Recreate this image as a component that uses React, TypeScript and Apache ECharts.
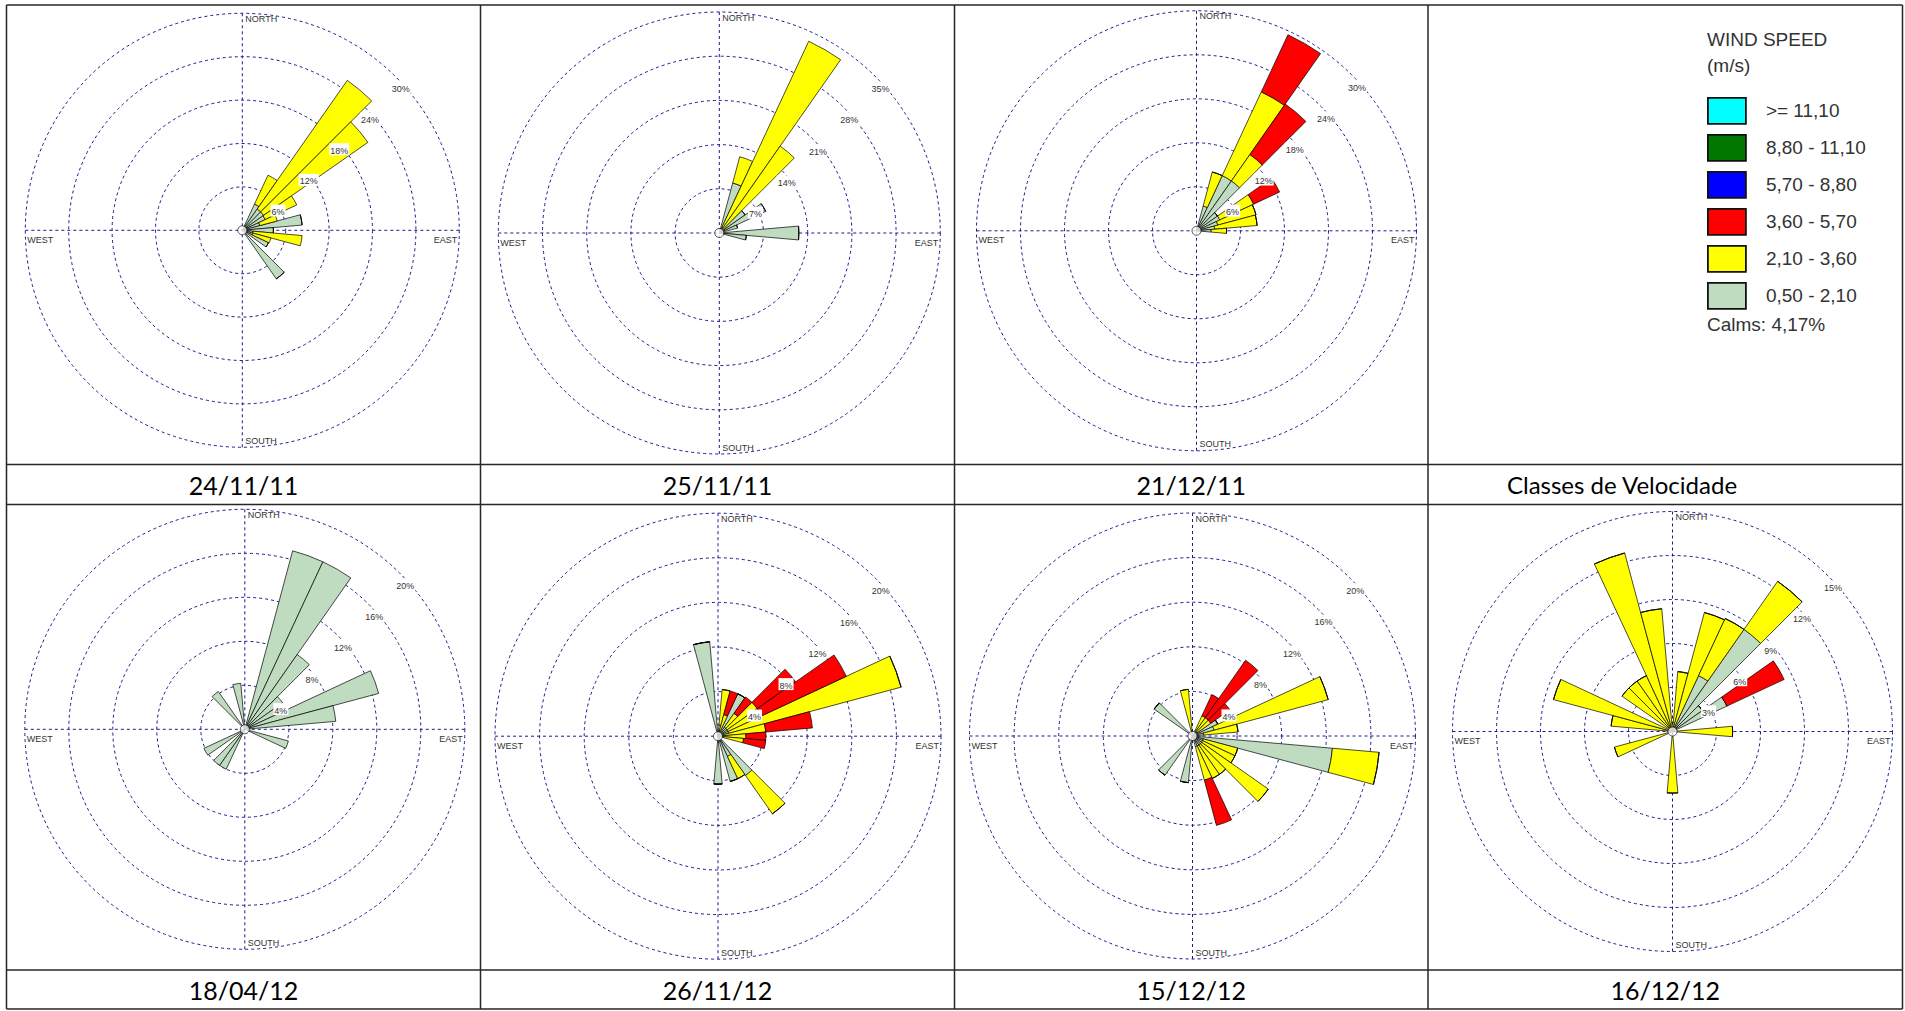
import React, { useEffect, useRef } from "react";
import * as echarts from "echarts";

// ---------------- data ----------------
const DIRECTIONS = ["10","20","30","40","50","60","70","80","90","100","110","120","130","140","150","160","170","180","190","200","210","220","230","240","250","260","270","280","290","300","310","320","330","340","350","360"];

const SPEED_CLASSES = ["0,50 - 2,10", "2,10 - 3,60", "3,60 - 5,70", "5,70 - 8,80", "8,80 - 11,10", ">= 11,10"];
const CLASS_COLORS = ["#c0dcc0", "#ffff00", "#ff0000", "#0000ff", "#007800", "#00ffff"];

const DATES = ["24/11/11", "25/11/11", "21/12/11", "18/04/12", "26/11/12", "15/12/12", "16/12/12"];
const RING_STEPS = [6, 7, 6, 4, 4, 4, 3];
const RING_COUNT = 5;
const LEGEND_TITLE = "WIND SPEED\n(m/s)";
const CALMS_TEXT = "Calms: 4,17%";
const LEGEND_CELL_LABEL = "Classes de Velocidade";
const COMPASS = ["NORTH", "EAST", "SOUTH", "WEST"];

// frequency (%) per direction, per speed class (class increments, stacked)
const R1_CLASS1 = [0,0,4.0,3.6,3.6,3.5,2.5,8.3,4.3,1.5,1.5,4.0,0,8.2,0,0,0,0, 0,0,0,0,0,0,0,0,0,0,0,0,0,0,0,0,0,0];
const R1_CLASS2 = [0,0,4.4,21.7,17.6,4.8,2.5,0,0,6.8,2.6,0,0,0,0,0,0,0, 0,0,0,0,0,0,0,0,0,0,0,0,0,0,0,0,0,0];

const R2_CLASS1 = [0,8.2,1.0,0,5.0,8.1,3.0,0,12.6,4.3,0,0,0,0,0,0,0,0, 0,0,0,0,0,0,0,0,0,0,0,0,0,0,0,0,0,0];
const R2_CLASS2 = [0,4.3,32.5,16.8,0,0,0,0,0,0,0,0,0,0,0,0,0,0, 0,0,0,0,0,0,0,0,0,0,0,0,0,0,0,0,0,0];

const R3_CLASS1 = [0,3.5,8.3,8.3,3.5,3.5,3.0,2.5,2.0,0,0,0,0,0,0,0,0,0, 0,0,0,0,0,0,0,0,0,0,0,0,0,0,0,0,0,0];
const R3_CLASS2 = [0,4.8,12.6,4.4,0,5.1,5.4,5.8,2.1,0,0,0,0,0,0,0,0,0, 0,0,0,0,0,0,0,0,0,0,0,0,0,0,0,0,0,0];
const R3_CLASS3 = [0,0,8.6,8.4,0,3.9,0,0,0,0,0,0,0,0,0,0,0,0, 0,0,0,0,0,0,0,0,0,0,0,0,0,0,0,0,0,0];

const R4_CLASS1 = [0,16.8,16.8,8.3,4.2,4.0,12.6,8.3,0,0,4.1,0,0,0,0,0,0,0, 0,0,4.0,4.0,0,4.1,0,0,0,0,0,0,0,4.2,0,0,4.2,0];

const R5_CLASS1 = [1.0,0.5,4.2,1.0,1.0,1.0,1.0,0.5,0.5,0.5,0,0,0,4.3,2.0,4.2,0,4.3, 0,0,0,0,0,0,0,0,0,0,0,0,0,0,0,0,8.5,0];
const R5_CLASS2 = [3.2,1.5,0,1.5,3.3,3.3,16.0,3.8,2.0,1.8,0,0,0,4.2,2.2,0,0,0, 0,0,0,0,0,0,0,0,0,0,0,0,0,0,0,0,0,0];
const R5_CLASS3 = [0,2.2,0,1.8,4.2,8.4,0,4.2,1.8,2.0,0,0,0,0,0,0,0,0, 0,0,0,0,0,0,0,0,0,0,0,0,0,0,0,0,0,0];

const R6_CLASS1 = [0,0,0.5,0.5,0.5,2.5,2.0,1.0,0,12.6,1.0,1.0,1.0,1.0,1.0,1.0,0,0, 4.2,0,0,4.3,0,0,0,0,0,0,0,0,4.2,0,0,0,0.5,0];
const R6_CLASS2 = [0,0,1.5,1.5,1.5,0,10.6,3.1,0,4.2,3.2,3.2,7.3,3.2,3.2,3.1,0,0, 0,0,0,0,0,0,0,0,0,0,0,0,0,0,0,0,3.7,0];
const R6_CLASS3 = [0,0,2.1,6.3,2.1,0,0,0,0,0,0,0,0,0,0,4.2,0,0, 0,0,0,0,0,0,0,0,0,0,0,0,0,0,0,0,0,0];

const R7_CLASS1 = [0,0,4.2,8.5,2.5,4.1,0,0,0,0,0,0,0,0,0,0,0,0, 0,0,0,0,0,0,0,0,0,0,0,0,0,0,0,0,0,0];
const R7_CLASS2 = [4.1,8.4,4.3,4.0,0,0,0,0,4.1,0,0,0,0,0,0,0,0,4.2, 0,0,0,0,0,0,4.1,0,0,4.2,8.4,0,4.2,4.2,4.2,12.6,8.4,0];
const R7_CLASS3 = [0,0,0,0,0,4.3,0,0,0,0,0,0,0,0,0,0,0,0, 0,0,0,0,0,0,0,0,0,0,0,0,0,0,0,0,0,0];

const ROSE_CLASSES: number[][][] = [
  [R1_CLASS1, R1_CLASS2],
  [R2_CLASS1, R2_CLASS2],
  [R3_CLASS1, R3_CLASS2, R3_CLASS3],
  [R4_CLASS1],
  [R5_CLASS1, R5_CLASS2, R5_CLASS3],
  [R6_CLASS1, R6_CLASS2, R6_CLASS3],
  [R7_CLASS1, R7_CLASS2, R7_CLASS3],
];

// ---------------- layout ----------------
const COL_X = [6.5, 480.5, 954.5, 1428, 1902.5];
const ROW_Y = [5, 464.5, 504.5, 970, 1009];
const ROSE_LAYOUT = [
  { cx: 242.3, cy: 230.3, r: 217, col: 0, row: 0 },
  { cx: 719.3, cy: 233, r: 221, col: 1, row: 0 },
  { cx: 1196.5, cy: 230.8, r: 220, col: 2, row: 0 },
  { cx: 244.8, cy: 729.3, r: 220, col: 0, row: 1 },
  { cx: 718, cy: 736.2, r: 223, col: 1, row: 1 },
  { cx: 1192.5, cy: 736, r: 223, col: 2, row: 1 },
  { cx: 1672.5, cy: 731.5, r: 220, col: 3, row: 1 },
];
const GRID_COLOR = "#1a1a90";
const TXT = "#333333";
const SANS = "'Liberation Sans', Arial, sans-serif";
const CAPTION_FONT = "Lato, 'Open Sans', sans-serif";

function buildOption() {
  const polar: any[] = [];
  const angleAxis: any[] = [];
  const radiusAxis: any[] = [];
  const series: any[] = [];
  const elements: any[] = [];
  const dash = { color: GRID_COLOR, width: 1, type: [3, 3] };

  ROSE_LAYOUT.forEach((L, k) => {
    const step = RING_STEPS[k];
    const max = step * RING_COUNT;
    const gi = 3 * k, li = 3 * k + 1, di = 3 * k + 2;
    for (let j = 0; j < 3; j++) polar.push({ center: [L.cx, L.cy], radius: [0, L.r] });

    // grid polar: rings + N/E/S/W lines
    angleAxis.push({
      polarIndex: gi, type: "value", min: 0, max: 360, interval: 90, startAngle: 90, clockwise: true,
      axisLine: { show: false }, axisTick: { show: false }, axisLabel: { show: false },
      splitLine: { show: true, lineStyle: dash }, z: 0,
    });
    radiusAxis.push({
      polarIndex: gi, type: "value", min: 0, max, interval: step,
      axisLine: { show: false }, axisTick: { show: false }, axisLabel: { show: false },
      splitLine: { show: true, lineStyle: dash }, z: 0,
    });
    // label polar: ring percentages along NE
    angleAxis.push({ polarIndex: li, type: "value", min: 0, max: 360, startAngle: 45, clockwise: true, show: false });
    radiusAxis.push({
      polarIndex: li, type: "value", min: 0, max, interval: step, z: 10,
      axisLine: { show: false }, axisTick: { show: false }, splitLine: { show: false },
      axisLabel: {
        show: true, showMinLabel: false, showMaxLabel: true, formatter: "{value}%",
        fontSize: 9, color: TXT, fontFamily: SANS, backgroundColor: "#ffffff",
        padding: [3, 1, 0, 1], margin: -7, align: "center", verticalAlign: "top",
      },
    });
    // data polar
    angleAxis.push({ polarIndex: di, type: "category", data: DIRECTIONS, startAngle: 85, clockwise: true, show: false });
    radiusAxis.push({ polarIndex: di, type: "value", min: 0, max, show: false });

    SPEED_CLASSES.forEach((name, c) => {
      series.push({
        type: "bar", coordinateSystem: "polar", polarIndex: di, stack: "rose" + k, name,
        data: ROSE_CLASSES[k][c] || [], barCategoryGap: "0%", silent: true, z: 3,
        itemStyle: { color: CLASS_COLORS[c], borderColor: "#000000", borderWidth: 0.7 },
      });
    });
    series.push({
      type: "scatter", coordinateSystem: "polar", polarIndex: di, name: "calm", silent: true, z: 5,
      data: [[0, DIRECTIONS[0]]], symbol: "circle", symbolSize: 9,
      itemStyle: { color: "#ffffff", borderColor: "#000000", borderWidth: 0.8 },
    });

    const dirStyle = { fontSize: 9, fill: TXT, fontFamily: SANS };
    elements.push(
      { type: "text", x: L.cx + 3, y: L.cy - L.r + 1, style: { ...dirStyle, text: COMPASS[0], textAlign: "left", textVerticalAlign: "top" } },
      { type: "text", x: L.cx + L.r - 2, y: L.cy + 5, style: { ...dirStyle, text: COMPASS[1], textAlign: "right", textVerticalAlign: "top" } },
      { type: "text", x: L.cx + 3, y: L.cy + L.r - 2, style: { ...dirStyle, text: COMPASS[2], textAlign: "left", textVerticalAlign: "bottom" } },
      { type: "text", x: L.cx - L.r + 2, y: L.cy + 5, style: { ...dirStyle, text: COMPASS[3], textAlign: "left", textVerticalAlign: "top" } },
    );
    const capY = L.row === 0 ? (ROW_Y[1] + ROW_Y[2]) / 2 : (ROW_Y[3] + ROW_Y[4]) / 2;
    elements.push({
      type: "text", x: (COL_X[L.col] + COL_X[L.col + 1]) / 2, y: capY,
      style: { text: DATES[k], fontSize: 25, fill: "#000", fontFamily: CAPTION_FONT, textAlign: "center", textVerticalAlign: "middle" },
    });
  });

  elements.push({
    type: "text", x: 1622, y: (ROW_Y[1] + ROW_Y[2]) / 2,
    style: { text: LEGEND_CELL_LABEL, fontSize: 24, fill: "#000", fontFamily: CAPTION_FONT, textAlign: "center", textVerticalAlign: "middle" },
  });
  elements.push({
    type: "text", x: 1707, y: 324,
    style: { text: CALMS_TEXT, fontSize: 19, fill: TXT, fontFamily: SANS, textAlign: "left", textVerticalAlign: "middle" },
  });

  const border = { stroke: "#262626", lineWidth: 1.5 };
  ROW_Y.forEach((y) => elements.push({ type: "line", shape: { x1: COL_X[0], y1: y, x2: COL_X[4], y2: y }, style: border, z: 20 }));
  COL_X.forEach((x) => elements.push({ type: "line", shape: { x1: x, y1: ROW_Y[0], x2: x, y2: ROW_Y[4] }, style: border, z: 20 }));

  return {
    animation: false,
    backgroundColor: "#ffffff",
    title: {
      text: LEGEND_TITLE, left: 1707, top: 26, padding: 0,
      textStyle: { fontSize: 19, fontWeight: "normal", color: TXT, lineHeight: 26, fontFamily: SANS },
    },
    legend: {
      orient: "vertical", left: 1707, top: 97, padding: 0,
      itemWidth: 38, itemHeight: 26, itemGap: 9.2, selectedMode: false,
      data: SPEED_CLASSES.slice().reverse().map((n) => ({ name: n, icon: "rect" })),
      itemStyle: { borderColor: "#111111", borderWidth: 1.8 },
      textStyle: { fontSize: 19, color: TXT, fontFamily: SANS, padding: [0, 0, 0, 15] },
    },
    polar, angleAxis, radiusAxis, series,
    graphic: { elements },
  };
}

export default function App() {
  const ref = useRef<HTMLDivElement>(null);
  useEffect(() => {
    if (!ref.current) return;
    const chart = echarts.init(ref.current, undefined, { renderer: "svg" });
    chart.setOption(buildOption() as any);
    return () => chart.dispose();
  }, []);
  return (
    <div
      ref={ref}
      style={{ position: "fixed", left: 0, top: 0, width: 1905, height: 1011, background: "#fff" }}
    />
  );
}
